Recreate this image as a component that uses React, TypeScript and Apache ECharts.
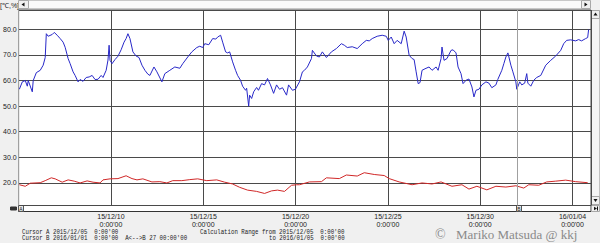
import React, { useEffect, useRef } from 'react';
import * as echarts from 'echarts';

// Time axis: days since 2015/12/05 0:00
const START_UTC = Date.UTC(2015, 11, 5);
const X_MIN_DAY = 0;
const X_MAX_DAY = 31;
const X_TICK_STEP = 5;
const Y_MIN = 11.19;
const Y_MAX = 87.56;
const Y_UNIT = '[\u2103,%]';
const CURSOR_A_DAY = 0;
const CURSOR_B_DAY = 27;

const blueDays = [0.04,0.20,0.36,0.47,0.52,0.74,0.79,0.96,1.17,1.33,
  1.44,1.50,1.60,1.82,1.93,2.09,2.25,2.41,2.52,2.68,
  2.79,2.95,3.06,3.22,3.33,3.49,3.66,3.82,3.98,4.14,
  4.30,4.47,4.57,4.74,4.84,4.90,4.95,5.06,5.22,5.38,
  5.55,5.71,5.82,5.92,6.03,6.19,6.36,6.52,6.68,6.84,
  7.00,7.11,7.33,7.49,7.76,7.92,8.19,8.46,8.73,8.89,
  9.16,9.38,9.65,9.81,9.97,10.08,10.30,10.51,10.68,10.78,
  10.94,11.05,11.21,11.32,11.43,11.59,11.75,11.86,12.02,12.13,
  12.29,12.35,12.46,12.51,12.62,12.73,12.89,12.99,13.16,13.32,
  13.48,13.64,13.81,13.97,14.13,14.29,14.51,14.62,14.83,14.99,
  15.21,15.37,15.48,15.64,15.86,15.91,16.13,16.29,16.45,16.67,
  16.94,17.21,17.48,17.64,17.80,18.07,18.34,18.61,18.83,18.99,
  19.15,19.42,19.69,19.91,20.02,20.18,20.34,20.50,20.72,20.88,
  20.99,21.15,21.31,21.42,21.53,21.64,21.74,21.85,22.01,22.23,
  22.39,22.61,22.72,22.88,22.93,23.04,23.20,23.42,23.53,23.69,
  23.80,23.96,24.07,24.23,24.39,24.55,24.66,24.77,24.93,25.09,
  25.31,25.47,25.63,25.85,25.95,26.17,26.28,26.39,26.50,26.66,
  26.77,26.93,26.98,27.14,27.25,27.41,27.52,27.58,27.74,27.90,
  28.06,28.28,28.55,28.82,29.09,29.36,29.52,29.68,29.90,30.17,
  30.33,30.49,30.71,30.82,30.87];
const blueVals = [56.6,59.5,60,57.8,60,55.6,60,63.1,64,66,
  69,78.3,77.3,78,78.8,77.7,76.4,75,73,68.6,
  66.6,63.4,62,59.5,60.4,59.7,61.2,61.4,62,60.4,
  60.5,62,61.2,64,68,73.8,67.9,66.6,68.2,69.5,
  72,75,76.4,78.3,76.4,71.2,69.6,69,66,64,
  62.5,62,65.3,63.4,59.5,62.7,64,65.3,64.8,66.6,
  69.2,71.2,72.9,73.4,72.9,74.4,74,76.4,76.2,77,
  77.7,75,71.2,70.8,71.2,67.3,64,62,60.1,57.8,
  56.2,57,50,54.3,53,55.6,57.3,56.2,58.8,58.3,
  60.8,58.3,55,58.3,56.6,57.2,54.3,58.3,56.2,56.6,
  59.5,63.4,64,65.3,68.6,71.8,69.6,69.2,71.2,69,
  71.2,72.5,74.4,73.8,72.9,73.2,72.5,74.4,75.7,75.5,
  76.4,77.3,77.7,77.3,75.7,77,74.4,75.7,74.4,79.3,
  77,69.9,68.6,68.2,63.4,58.8,59.2,64,64.6,65.3,
  64,65.3,64,68.6,73.1,67.9,68.6,71.8,72,70.8,
  65.3,62.7,58.8,60.1,60.6,57.5,53.6,56.2,56.6,58.3,
  59.5,59,57.2,58.3,60.4,64,66.6,69.2,70.8,66,
  63.4,59.5,56.6,59.5,58.3,59,62.7,59,57.8,60.1,
  61.2,62,66,67.9,69.6,71.8,74.4,75.7,75.9,75.5,
  76,75.5,76.4,76.8,79.9];

const redDays = [0.04,0.36,0.63,1.17,1.44,1.77,1.98,2.36,2.68,3.01,
  3.33,3.71,4.03,4.41,4.57,4.95,5.38,5.82,6.14,6.41,
  6.73,7.22,7.65,8.03,8.35,8.84,9.27,9.70,10.19,10.73,
  11.16,11.59,11.97,12.40,12.89,13.32,13.70,14.02,14.40,14.78,
  15.05,15.21,15.75,16.40,16.67,17.37,17.75,18.34,18.72,19.26,
  19.80,20.07,20.61,21.31,21.85,22.39,22.88,23.47,24.01,24.39,
  24.82,25.36,25.85,26.39,26.93,27.36,27.63,28.17,28.60,29.09,
  29.63,30.17,30.82];
const redVals = [19.3,18.7,19.9,20.1,20.9,22,21.6,20.3,21.2,20.7,
  20,20.8,20.3,20,21.2,21.6,21.7,22.8,21.7,21.2,
  21.6,20.4,20.5,20,20.9,20.9,21.3,21.6,20.9,21.2,
  20.3,19.6,18.3,17.2,16.7,15.9,16.9,17.2,16.7,19.1,
  19.3,19.3,20.4,20.5,22,21.7,23.1,22.7,24,23.3,
  22.9,21.7,20.4,19.3,20,19.6,20.4,18.7,19.3,17.6,
  18.7,17.3,18.7,18.4,18.9,18,19.3,19.1,20.4,20.7,
  21.1,20.5,20.1];

const footerLeft1 = "Cursor A 2015/12/05  0:00'00";
const footerLeft2 = "Cursor B 2016/01/01  0:00'00  A<-->B 27 00:00'00";
const footerMid1 = "Calculation Range from 2015/12/05  0:00'00";
const footerMid2 = "to 2016/01/05  0:00'00";
const watermark = 'Mariko Matsuda @ kkj';

const pad = (n: number) => (n < 10 ? '0' + n : '' + n);
function dayLabel(v: number): string {
  const d = new Date(START_UTC + v * 86400000);
  return `${pad(d.getUTCFullYear() % 100)}/${pad(d.getUTCMonth() + 1)}/${pad(d.getUTCDate())}\n0:00'00`;
}

const zip = (a: number[], b: number[]) => a.map((x, i) => [x, b[i]]);

const MONO = '"Liberation Mono", "DejaVu Sans Mono", monospace';

function txt(text: string, x: number, y: number, font: string, fill: string, align = 'left', scaleX = 1) {
  return {
    type: 'text', x, y, scaleX, silent: true,
    style: { text, font, fill, align, textAlign: align, verticalAlign: 'middle', textVerticalAlign: 'middle' },
  };
}
function rect(x: number, y: number, w: number, h: number, fill: string, stroke: string) {
  return { type: 'rect', silent: true, shape: { x, y, width: w, height: h }, style: { fill, stroke, lineWidth: 1 } };
}
function tri(points: number[][], fill = '#111') {
  return { type: 'polygon', silent: true, shape: { points }, style: { fill } };
}

export default function App() {
  const ref = useRef<HTMLDivElement>(null);
  useEffect(() => {
    if (!ref.current) return;
    const chart = echarts.init(ref.current, null, { renderer: 'svg' });
    const gridColor = '#4a4a4a';
    chart.setOption({
      animation: false,
      backgroundColor: '#f0f0f0',
      grid: {
        left: 18, top: 10, width: 573, height: 195.5,
        show: true, backgroundColor: '#ffffff', borderColor: gridColor, borderWidth: 1,
      },
      xAxis: {
        type: 'value', min: X_MIN_DAY, max: X_MAX_DAY, interval: X_TICK_STEP,
        axisLine: { show: false }, axisTick: { show: false },
        splitLine: { show: true, lineStyle: { color: gridColor, width: 1 } },
        axisLabel: {
          showMinLabel: false, showMaxLabel: false,
          margin: 7, fontSize: 7, lineHeight: 8, color: '#222',
          fontFamily: '"Liberation Sans", Arial, sans-serif',
          formatter: (v: number) => (v > X_MIN_DAY && v < X_MAX_DAY && v % X_TICK_STEP === 0 ? dayLabel(v) : ''),
        },
      },
      yAxis: {
        type: 'value', min: Y_MIN, max: Y_MAX, splitNumber: 8,
        axisLine: { show: false }, axisTick: { show: false },
        splitLine: { show: true, lineStyle: { color: gridColor, width: 1 } },
        axisLabel: {
          showMinLabel: false, showMaxLabel: false,
          margin: 2, fontSize: 7, color: '#222',
          fontFamily: '"Liberation Sans", Arial, sans-serif',
          formatter: (v: number) => (Math.abs(v % 10) < 1e-6 ? v.toFixed(1) : ''),
        },
      },
      series: [
        {
          type: 'line', data: zip(blueDays, blueVals), showSymbol: false, symbol: 'none',
          lineStyle: { color: '#2828c8', width: 1 }, z: 3,
          markLine: {
            silent: true, symbol: ['none', 'none'], label: { show: false },
            lineStyle: { color: '#a0a0a0', type: 'solid', width: 1 },
            data: [{ xAxis: CURSOR_A_DAY }, { xAxis: CURSOR_B_DAY }],
          },
        },
        {
          type: 'line', data: zip(redDays, redVals), showSymbol: false, symbol: 'none',
          lineStyle: { color: '#d02828', width: 1 }, z: 3,
        },
      ],
      graphic: [
        txt(Y_UNIT, 0, 5, `7px "Liberation Sans", Arial, sans-serif`, '#222'),
        // top scrollbar
        rect(28.5, 0.5, 553, 8, '#fafafa', '#c8c8c8'),
        rect(18.5, 0.5, 10, 8, '#f0f0f0', '#a8a8a8'),
        tri([[21.5, 4.5], [24.5, 2.5], [24.5, 6.5]]),
        rect(581.5, 0.5, 9, 8, '#f0f0f0', '#a8a8a8'),
        tri([[587.5, 4.5], [584.5, 2.5], [584.5, 6.5]]),
        // right scrollbar
        rect(591.5, 10.5, 8, 194, '#f4f4f4', '#c0c0c0'),
        rect(591.5, 10.5, 8, 8, '#f0f0f0', '#a8a8a8'),
        tri([[595.5, 12.5], [593.5, 15.5], [597.5, 15.5]]),
        rect(591.5, 196.5, 8, 8, '#f0f0f0', '#a8a8a8'),
        tri([[595.5, 202], [593.5, 199], [597.5, 199]]),
        // bottom scrollbar
        rect(18.5, 205.5, 572.5, 6, '#ffffff', '#333333'),
        rect(10.5, 207, 6, 3, '#333333', '#333333'),
        rect(18.5, 205.5, 5, 6, '#e8e8e8', '#555555'),
        txt('A', 21, 208.7, `5px "Liberation Sans", Arial, sans-serif`, '#222', 'center'),
        rect(516.5, 205.5, 5, 6, '#e8e8e8', '#555555'),
        txt('B', 519, 208.7, `5px "Liberation Sans", Arial, sans-serif`, '#222', 'center'),
        rect(591.5, 205.5, 8, 6, '#f0f0f0', '#a8a8a8'),
        tri([[597, 208.5], [594, 206.8], [594, 210.2]]),
        { type: 'line', silent: true, shape: { x1: 597.5, y1: 206.5, x2: 597.5, y2: 210.5 }, style: { stroke: '#111', lineWidth: 1 } },
        // footer
        txt(footerLeft1, 22, 232, `7px ${MONO}`, '#222', 'left', 0.82),
        txt(footerLeft2, 22, 238.5, `7px ${MONO}`, '#222', 'left', 0.82),
        txt(footerMid1, 200, 232, `7px ${MONO}`, '#222', 'left', 0.82),
        txt(footerMid2, 269, 238.5, `7px ${MONO}`, '#222', 'left', 0.82),
        txt('\u00a9', 435, 234.5, `14px "Liberation Serif", serif`, '#8a8a8a'),
        txt(watermark, 456, 234.5, `13px "Liberation Serif", serif`, '#8a8a8a'),
      ],
    });
    return () => chart.dispose();
  }, []);
  return <div ref={ref} style={{ position: 'fixed', left: 0, top: 0, width: 600, height: 243 }} />;
}
